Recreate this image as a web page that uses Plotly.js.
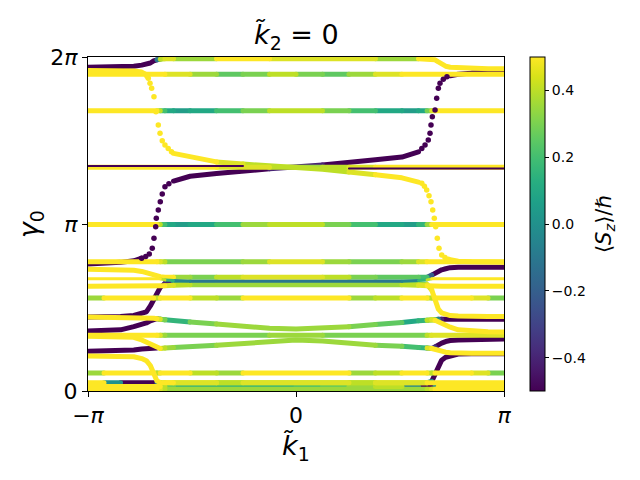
<!DOCTYPE html>
<html><head><meta charset="utf-8">
<script src="https://cdn.plot.ly/plotly-3.0.1.min.js"></script>
<style>html,body{margin:0;padding:0;background:#fff}
.scatterlayer .js-line{stroke-linejoin:round !important;stroke-linecap:round !important}</style>
</head><body><div id="chart" style="width:640px;height:480px"></div>
<script>
// shared k1 grid (x positions of the sampled band points)
const k1 = [-3.1416,-2.9,-2.65,-2.45,-2.33,-2.26,-2.2,-2.15,-2.1,-2.05,-1.98,-1.85,-1.6,-1.2,-0.8,-0.4,0,0.4,0.8,1.2,1.6,1.85,1.98,2.05,2.1,2.15,2.2,2.26,2.33,2.45,2.65,2.9,3.1416];

// gamma_0 values of each band on the k1 grid, and <Sz>/hbar values
const gTop = [6.09,6.09,6.10,6.11,6.13,6.15,6.17,6.21,6.23,6.24,6.25,6.25,6.25,6.25,6.25,6.25,6.25,6.25,6.25,6.25,6.25,6.25,6.25,6.25,6.23,6.19,6.15,6.11,6.09,6.08,6.07,6.06,6.06];
const sTop = [-0.5,-0.5,-0.5,-0.5,-0.5,-0.5,-0.5,-0.5,-0.5,0.3,0.45,0.45,0.2,0.45,0.5,0.45,0.45,0.45,0.45,0.45,0.2,0.45,0.5,0.5,0.5,0.5,0.5,0.5,0.5,0.5,0.5,0.5,0.5];

const gB = [5.96,5.96,5.96,5.96,5.96,5.96,5.96,5.96,5.96,5.96,5.96,5.96,5.96,5.96,5.96,5.96,5.96,5.96,5.96,5.96,5.96,5.96,5.96,5.96,5.96,5.96,5.96,5.96,5.96,5.96,5.96,5.96,5.96];
const sB = [0.5,0.5,0.5,0.5,0.5,0.5,0.5,0.5,0.5,0.5,0.45,0.45,0.4,0.3,0.2,0.35,0.4,0.2,0.25,0.4,0.5,0.5,0.5,0.5,0.5,0.5,0.5,0.5,0.5,0.5,0.5,0.5,0.5];

const gC = [5.27,5.27,5.27,5.27,5.27,5.27,5.27,5.27,5.27,5.27,5.27,5.27,5.27,5.27,5.27,5.27,5.27,5.27,5.27,5.27,5.27,5.27,5.27,5.27,5.27,5.27,5.27,5.27,5.27,5.27,5.27,5.27,5.27];
const sC = [0.5,0.5,0.5,0.5,0.5,0.5,0.5,0.5,0.5,0.3,0.1,0.05,0.05,0.1,0.25,0.35,0.4,0.35,0.3,0.1,0.05,0.05,0.15,0.4,0.5,0.5,0.5,0.5,0.5,0.5,0.5,0.5,0.5];

const gD = [4.21,4.21,4.21,4.21,4.21,4.21,4.21,4.21,4.21,4.21,4.21,4.21,4.21,4.21,4.21,4.21,4.21,4.21,4.21,4.21,4.21,4.21,4.21,4.21,4.21,4.21,4.21,4.21,4.21,4.21,4.21,4.21,4.21];
const sD = [0.5,0.5,0.5,0.5,0.5,0.5,0.5,0.5,0.5,0.5,0.5,0.5,0.5,0.45,0.45,0.4,0.35,0.35,0.4,0.45,0.5,0.5,0.5,0.5,0.5,0.5,0.5,0.5,0.5,0.5,0.5,0.5,0.5];
const gD2 = [4.235,4.235,4.235,4.235,4.235,4.235,4.235,4.235,4.235,4.235,4.235,4.235,4.235,4.235,4.235,null,null,null,4.185,4.185,4.185,4.185,4.185,4.185,4.185,4.185,4.185,4.185,4.185,4.185,4.185,4.185,4.185];
const sD2 = [-0.5,-0.5,-0.5,-0.5,-0.5,-0.5,-0.5,-0.5,-0.5,-0.5,-0.5,-0.5,-0.5,-0.5,-0.5,-0.5,-0.5,-0.5,-0.5,-0.5,-0.5,-0.5,-0.5,-0.5,-0.5,-0.5,-0.5,-0.5,-0.5,-0.5,-0.5,-0.5,-0.5];

const gE = [3.13,3.13,3.13,3.13,3.13,3.13,3.13,3.13,3.13,3.13,3.13,3.13,3.13,3.13,3.13,3.13,3.13,3.13,3.13,3.13,3.13,3.13,3.13,3.13,3.13,3.13,3.13,3.13,3.13,3.13,3.13,3.13,3.13];
const sE = [0.5,0.5,0.5,0.5,0.5,0.5,0.5,0.5,0.5,0.3,0.1,0.05,0.05,0.1,0.3,0.4,0.4,0.35,0.25,0.1,0.05,0.05,0.2,0.45,0.5,0.5,0.5,0.5,0.5,0.5,0.5,0.5,0.5];

// gentle parts of the two main spectral-flow bands
const gYF = [6.03,6.03,6.03,6.02,6.0,5.95,null,null,null,null,null,4.47,4.40,4.31,4.27,4.24,4.21,4.17,4.12,4.07,4.01,3.93,null,null,null,null,null,null,2.47,2.44,2.43,2.42,2.42];
const sYF = [0.5,0.5,0.5,0.5,0.5,0.5,0.5,0.5,0.5,0.5,0.5,0.5,0.5,0.45,0.4,0.4,0.35,0.4,0.4,0.45,0.5,0.5,0.5,0.5,0.5,0.5,0.5,0.5,0.5,0.5,0.5,0.5,0.5];
const gPF = [2.39,2.40,2.42,2.45,2.50,null,null,null,null,null,null,3.95,4.04,4.09,4.14,4.18,4.21,4.25,4.29,4.35,4.40,4.50,null,null,null,null,null,null,5.93,5.96,5.98,5.99,6.0];
const sPF = [-0.5,-0.5,-0.5,-0.5,-0.5,-0.5,-0.5,-0.5,-0.5,-0.5,-0.5,-0.5,-0.5,-0.5,-0.5,-0.5,-0.3,-0.5,-0.5,-0.5,-0.5,-0.5,-0.5,-0.5,-0.5,-0.5,-0.5,-0.5,-0.5,-0.5,-0.5,-0.5,-0.5];

// steep (dotted) parts of the spectral flow
const flowYx = [-2.25,-2.231,-2.205,-2.18,-2.145,-2.115,-2.08,-2.054,-2.02,-1.979,-1.93,-1.88,1.90,1.94,1.974,2.009,2.039,2.065,2.089,2.11,2.134,2.16,2.201,2.25,2.30];
const flowYg = [5.92,5.882,5.788,5.694,5.536,5.254,5.004,4.848,4.708,4.628,4.56,4.50,3.907,3.85,3.781,3.674,3.561,3.405,3.249,3.091,2.872,2.684,2.558,2.51,2.477];
const flowPx = [-1.92,-1.979,-2.02,-2.05,-2.08,-2.11,-2.119,-2.145,-2.171,-2.216,-2.27,-2.331,1.90,1.949,1.998,2.024,2.039,2.059,2.10,2.125,2.15,2.175,2.225,2.28];
const flowPg = [3.90,3.843,3.706,3.561,3.405,3.249,3.091,2.872,2.684,2.577,2.53,2.496,4.56,4.628,4.722,4.848,5.004,5.16,5.286,5.506,5.694,5.788,5.863,5.91];

// lower bands
const gF = [2.43,2.43,2.43,2.43,2.43,2.43,2.43,2.43,2.43,2.43,2.43,2.43,2.43,2.43,2.43,2.43,2.43,2.43,2.43,2.43,2.43,2.43,2.43,2.43,2.43,2.43,2.43,2.43,2.43,2.43,2.43,2.43,2.43];
const sF = [0.5,0.5,0.5,0.5,0.5,0.5,0.5,0.5,0.5,0.4,0.35,0.3,0.3,0.25,0.3,0.4,0.45,0.4,0.3,0.25,0.3,0.4,0.45,0.5,0.5,0.5,0.5,0.5,0.5,0.5,0.5,0.5,0.5];

const gG = [2.29,2.29,2.28,2.27,2.25,2.22,2.20,2.17,2.155,2.15,2.14,2.14,2.14,2.14,2.14,2.14,2.14,2.14,2.14,2.14,2.14,2.14,2.14,2.18,2.22,2.25,2.28,2.30,2.32,2.33,2.33,2.33,2.33];
const sG = [0.5,0.5,0.5,0.5,0.5,0.5,0.5,0.5,0.5,0.5,0.5,0.45,0.2,0.35,0.4,0.45,0.45,0.4,0.35,0.3,0.15,0.3,0.1,-0.5,-0.5,-0.5,-0.5,-0.5,-0.5,-0.5,-0.5,-0.5,-0.5];

const gG2 = [2.11,2.11,2.11,2.11,2.11,2.11,2.11,2.11,2.11,2.11,2.09,2.08,2.065,2.065,2.065,2.065,2.065,2.065,2.065,2.065,2.065,2.08,2.09,2.11,2.11,2.11,2.11,2.11,2.11,2.11,2.11,2.11,2.11];
const sG2 = [0.5,0.5,0.5,0.5,0.5,0.5,0.5,0.5,0.5,0.5,0.3,0.0,-0.1,-0.1,-0.1,-0.1,-0.1,-0.1,-0.1,-0.1,-0.1,0.0,0.3,0.5,0.5,0.5,0.5,0.5,0.5,0.5,0.5,0.5,0.5];

const gG3 = [1.97,1.97,1.97,1.97,1.97,1.97,1.97,1.97,1.97,1.97,1.98,1.99,2.0,2.0,2.0,2.0,2.0,2.0,2.0,2.0,2.0,1.99,1.98,1.97,1.97,1.97,1.97,1.97,1.97,1.97,1.97,1.97,1.97];
const sG3 = [0.5,0.5,0.5,0.5,0.5,0.5,0.5,0.5,0.5,0.5,0.45,0.4,0.35,0.35,0.35,0.35,0.35,0.35,0.35,0.35,0.35,0.4,0.45,0.5,0.5,0.5,0.5,0.5,0.5,0.5,0.5,0.5,0.5];

const gH = [1.39,1.39,1.40,1.42,1.45,1.49,1.60,1.73,1.86,1.95,2.02,2.03,2.03,2.02,2.02,2.01,2.01,2.01,2.02,2.02,2.02,2.02,2.0,1.90,1.71,1.54,1.47,1.44,1.42,1.41,1.40,1.40,1.40];
const sH = [-0.5,-0.5,-0.5,-0.5,-0.5,-0.5,-0.5,-0.5,-0.5,-0.5,-0.5,-0.3,0.3,0.35,0.35,0.35,0.35,0.35,0.35,0.35,0.3,0.25,0.4,0.5,0.5,0.5,0.5,0.5,0.5,0.5,0.5,0.5,0.5];

const gI = [1.75,1.75,1.75,1.75,1.75,1.75,1.75,1.75,1.75,1.75,1.75,1.75,1.75,1.75,1.75,1.75,1.75,1.75,1.75,1.75,1.75,1.75,1.75,1.75,1.75,1.75,1.75,1.75,1.75,1.75,1.75,1.75,1.75];
const sI = [0.2,0.5,0.5,0.5,0.5,0.5,0.5,0.5,0.25,0.45,0.5,0.5,0.5,0.25,0.45,0.5,0.5,0.5,0.45,0.25,0.5,0.5,0.5,0.25,0.45,0.5,0.5,0.5,0.5,0.5,0.5,0.4,0.2];

const gJ = [1.39,1.39,1.39,1.39,1.39,1.38,1.37,1.37,1.36,1.35,1.34,1.33,1.30,1.26,1.21,1.18,1.165,1.18,1.21,1.25,1.29,1.32,1.33,1.34,1.34,1.35,1.35,1.35,1.35,1.35,1.35,1.35,1.35];
const sJ = [0.5,0.5,0.5,0.5,0.5,0.5,0.5,0.5,0.5,0.4,0.2,0.05,0.2,0.35,0.35,0.35,0.35,0.35,0.35,0.3,0.15,0.05,0.2,0.4,0.2,-0.3,-0.5,-0.5,-0.5,-0.5,-0.5,-0.5,-0.5];

const gK = [1.13,1.14,1.15,1.21,1.25,1.28,1.32,1.35,1.36,1.35,1.34,null,null,null,null,null,null,null,null,null,null,null,1.33,1.34,1.33,1.30,1.27,1.24,1.20,1.15,1.125,1.115,1.11];
const sK = [-0.5,-0.5,-0.5,-0.5,-0.5,-0.5,-0.5,-0.5,-0.5,0.2,0.35,0.5,0.5,0.5,0.5,0.5,0.5,0.5,0.5,0.5,0.5,0.5,0.35,0.4,0.5,0.5,0.5,0.5,0.5,0.5,0.5,0.5,0.5];

const gL = [1.05,1.05,1.05,1.05,1.05,1.05,1.05,1.05,1.05,1.05,1.05,1.05,1.05,1.05,1.05,1.05,1.05,1.05,1.05,1.05,1.05,1.05,1.05,1.05,1.05,1.05,1.05,1.05,1.05,1.05,1.05,1.05,1.05];
const sL = [0.5,0.5,0.5,0.5,0.5,0.5,0.5,0.5,0.5,0.4,0.3,0.3,0.25,0.3,0.3,0.35,0.35,0.35,0.3,0.3,0.25,0.3,0.35,0.4,0.45,0.45,0.45,0.45,0.45,0.45,0.45,0.45,0.45];

const gM = [1.03,1.03,1.02,1.01,0.96,0.92,0.87,0.84,0.81,0.80,0.81,0.82,0.84,0.86,0.90,0.94,0.96,0.94,0.90,0.86,0.84,0.82,0.81,0.80,0.83,0.87,0.90,0.93,0.95,0.96,0.97,0.98,0.98];
const sM = [0.5,0.5,0.5,0.5,0.5,0.5,0.5,0.5,0.5,0.45,0.35,0.35,0.3,0.35,0.35,0.35,0.35,0.35,0.35,0.35,0.25,0.1,0.2,-0.2,-0.5,-0.5,-0.5,-0.5,-0.5,-0.5,-0.5,-0.5,-0.5];

const gN = [0.75,0.75,0.76,0.77,0.79,0.80,0.81,0.82,0.81,null,null,null,null,null,null,null,null,null,null,null,null,null,0.81,0.80,0.78,0.76,0.74,0.73,0.72,0.71,0.71,0.71,0.71];
const sN = [-0.5,-0.5,-0.5,-0.5,-0.5,-0.5,-0.5,-0.5,-0.5,0.5,0.5,0.5,0.5,0.5,0.5,0.5,0.5,0.5,0.5,0.5,0.5,0.5,0.4,0.5,0.5,0.5,0.5,0.5,0.5,0.5,0.5,0.5,0.5];

const gO = [0.66,0.66,0.655,0.645,0.61,0.57,0.48,0.31,0.19,0.16,0.155,0.155,0.155,0.155,0.155,0.155,0.155,0.155,0.155,0.155,0.155,0.155,0.155,0.18,0.30,0.46,0.58,0.635,0.665,0.695,0.70,0.70,0.70];
const sO = [0.5,0.5,0.5,0.5,0.5,0.5,0.5,0.5,0.5,0.5,0.5,0.45,0.45,0.4,0.4,0.4,0.4,0.4,0.4,0.4,0.45,0.45,0.45,-0.5,-0.5,-0.5,-0.5,-0.5,-0.5,-0.5,-0.5,-0.5,-0.5];

const gP = [0.34,0.34,0.34,0.34,0.34,0.34,0.34,0.34,0.34,0.34,0.34,0.34,0.34,0.34,0.34,0.34,0.34,0.34,0.34,0.34,0.34,0.34,0.34,0.34,0.34,0.34,0.34,0.34,0.34,0.34,0.34,0.34,0.34];
const sP = [0.2,0.5,0.5,0.5,0.5,0.5,0.5,0.5,0.25,0.45,0.5,0.5,0.5,0.25,0.45,0.5,0.5,0.5,0.45,0.25,0.5,0.5,0.5,0.25,0.45,0.5,0.5,0.5,0.5,0.5,0.5,0.4,0.2];

const gQ = [0.155,0.155,0.155,0.155,0.155,0.155,0.155,0.155,0.155,0.155,0.155,0.155,0.155,0.155,0.155,0.155,0.155,0.155,0.155,0.155,0.155,0.155,0.155,0.155,0.155,0.155,0.155,0.155,0.155,0.155,0.155,0.155,0.155];
const sQ = [0.5,0.5,-0.5,-0.5,-0.5,-0.5,-0.5,-0.5,-0.5,0.3,0.45,0.45,0.45,0.4,0.4,0.45,0.45,0.45,0.4,0.4,0.45,0.45,0.45,0.5,0.5,0.5,0.5,0.5,0.5,0.5,0.5,0.5,0.5];

const gR = [0.085,0.085,0.085,0.085,0.085,0.085,0.085,0.085,0.085,0.085,0.085,0.085,0.085,0.085,0.085,0.085,0.085,0.085,0.085,0.085,0.085,0.085,0.085,0.085,0.085,0.085,0.085,0.085,0.085,0.085,0.085,0.085,0.085];
const sR = [0.5,0.5,0.5,0.5,0.5,0.5,0.5,0.5,0.5,0.5,0.3,0.15,0.15,0.15,0.15,0.15,0.15,0.25,0.25,0.4,0.4,-0.5,-0.5,-0.5,-0.5,0.5,0.5,0.5,0.5,0.5,0.5,0.5,0.5];

const gS = [0.035,0.035,0.035,0.035,0.035,0.035,0.035,0.035,0.035,0.035,0.035,0.035,0.035,0.035,0.035,0.035,0.035,0.035,0.035,0.035,0.035,0.035,0.035,0.035,0.035,0.035,0.035,0.035,0.035,0.035,0.035,0.035,0.035];
const sS = [0.5,0.5,0.5,0.5,0.5,0.5,0.5,0.5,0.5,0.4,0.35,0.35,0.35,0.35,0.35,0.35,0.35,0.35,0.35,0.35,0.35,0.35,0.35,0.4,0.5,0.5,0.5,0.5,0.5,0.5,0.5,0.5,0.5];

const yTickVals = [0, Math.PI, 2*Math.PI];
const yTickText = ['0', '<i>π</i>', '2<i>π</i>'];
const xTickVals = [-Math.PI, 0, Math.PI];
const xTickText = ['−<i>π</i>', '0', '<i>π</i>'];
const cbTickVals = [-0.4, -0.2, 0, 0.2, 0.4];
const cbTickText = ['−0.4', '−0.2', '0.0', '0.2', '0.4'];

// ---------- drawing ----------
const VIR = ['#440154','#482475','#414487','#355f8d','#2a788e','#21918c','#22a884','#44bf70','#7ad151','#bddf26','#fde725'];
function hex2rgb(h){return [parseInt(h.slice(1,3),16),parseInt(h.slice(3,5),16),parseInt(h.slice(5,7),16)];}
function viridis(c){
  let t = Math.min(1, Math.max(0, c + 0.5)) * 10;
  const i = Math.min(9, Math.floor(t)), f = t - i;
  const a = hex2rgb(VIR[i]), b = hex2rgb(VIR[i+1]);
  return 'rgb(' + a.map((v,j)=>Math.round(v + (b[j]-v)*f)).join(',') + ')';
}

const bands = [
  {g:gTop,s:sTop,w:5,layer:0},{g:gB,s:sB,w:5,layer:0},{g:gC,s:sC,w:5,layer:0},
  {g:gD,s:sD,w:5,layer:0},{g:gE,s:sE,w:5,layer:0},
  {g:gYF,s:sYF,w:5,layer:0},{g:gPF,s:sPF,w:5,layer:0},
  {g:gF,s:sF,w:5,layer:0},{g:gG,s:sG,w:5,layer:0},{g:gG3,s:sG3,w:5,layer:0},
  {g:gH,s:sH,w:5,layer:0},{g:gI,s:sI,w:5,layer:0},{g:gJ,s:sJ,w:5,layer:0},
  {g:gK,s:sK,w:5,layer:0},{g:gL,s:sL,w:5,layer:0},{g:gM,s:sM,w:5,layer:0},
  {g:gN,s:sN,w:5,layer:0},{g:gO,s:sO,w:5,layer:0},{g:gP,s:sP,w:5,layer:0},
  {g:gQ,s:sQ,w:5,layer:0},{g:gR,s:sR,w:5,layer:0},{g:gS,s:sS,w:5,layer:0},
  {g:gD2,s:sD2,w:2,layer:1},{g:gG2,s:sG2,w:3,layer:1}
];

const groups = {};
bands.forEach(b => {
  let runKey = null;
  for (let i = 0; i < k1.length - 1; i++) {
    const y0 = b.g[i], y1 = b.g[i+1];
    if (y0 == null || y1 == null) { runKey = null; continue; }
    const bin = Math.round(((b.s[i] + b.s[i+1]) / 2) * 20) / 20;
    const key = b.layer + '|' + b.w + '|' + bin;
    if (key !== runKey) {
      if (!groups[key]) groups[key] = {x:[], y:[], layer:b.layer, w:b.w, bin:bin};
      const gr = groups[key];
      if (gr.x.length) { gr.x.push(null); gr.y.push(null); }
      gr.x.push(k1[i]); gr.y.push(y0);
      runKey = key;
    }
    groups[key].x.push(k1[i+1]); groups[key].y.push(y1);
  }
});

const groupList = Object.values(groups).sort((a,b) => (a.layer - b.layer) || (a.bin - b.bin));
const traces = groupList.map(gr => ({
  type:'scatter', mode:'lines', x:gr.x, y:gr.y, connectgaps:false,
  line:{color:viridis(gr.bin), width:gr.w}, hoverinfo:'skip', showlegend:false
}));

const dotX = flowYx.concat(flowPx);
const dotY = flowYg.concat(flowPg);
const dotC = flowYx.map(()=>0.5).concat(flowPx.map(()=>-0.5));
traces.push({
  type:'scatter', mode:'markers', x:dotX, y:dotY, hoverinfo:'skip', showlegend:false,
  marker:{size:5.5, color:dotC, colorscale:'Viridis', cmin:-0.5, cmax:0.5, showscale:true,
    line:{width:0},
    colorbar:{x:1.0625, xanchor:'left', y:0.5, yanchor:'middle', len:1, lenmode:'fraction',
      thickness:15, thicknessmode:'pixels', xpad:0, ypad:0, outlinewidth:1, outlinecolor:'#000',
      tickmode:'array', tickvals:cbTickVals, ticktext:cbTickText, ticks:'outside', ticklen:4,
      tickwidth:1, tickcolor:'#000', tickfont:{family:'DejaVu Sans', size:14, color:'#000'}}
  }
});

const F = 'DejaVu Sans';
const layout = {
  width:640, height:480, paper_bgcolor:'#fff', plot_bgcolor:'#fff',
  margin:{l:88, r:136, t:57, b:89},
  showlegend:false,
  xaxis:{range:[-Math.PI, Math.PI], tickmode:'array', tickvals:xTickVals, ticktext:xTickText,
    showgrid:false, zeroline:false, showline:true, linecolor:'#000', linewidth:1, mirror:true,
    ticks:'outside', ticklen:5, tickwidth:1, tickcolor:'#000',
    tickfont:{family:F, size:22, color:'#000'}},
  yaxis:{range:[0, 2*Math.PI], tickmode:'array', tickvals:yTickVals, ticktext:yTickText,
    showgrid:false, zeroline:false, showline:true, linecolor:'#000', linewidth:1, mirror:true,
    ticks:'outside', ticklen:5, tickwidth:1, tickcolor:'#000',
    tickfont:{family:F, size:22, color:'#000'}},
  annotations:[
    {text:'<i>k\u0303</i><sub>2</sub> = 0', xref:'paper', yref:'paper', x:0.5, y:1.06,
     xanchor:'center', yanchor:'middle', showarrow:false, font:{family:F, size:27, color:'#000'}},
    {text:'<i>k\u0303</i><sub>1</sub>', xref:'paper', yref:'paper', x:0.5, y:-0.168,
     xanchor:'center', yanchor:'middle', showarrow:false, font:{family:F, size:27, color:'#000'}},
    {text:'<i>γ</i><sub>0</sub>', xref:'paper', yref:'paper', x:-0.139, y:0.5, textangle:-90,
     xanchor:'center', yanchor:'middle', showarrow:false, font:{family:F, size:27, color:'#000'}},
    {text:'⟨<i>S</i><sub><i>z</i></sub>⟩/<i>ℏ</i>', xref:'paper', yref:'paper', x:1.243, y:0.5, textangle:-90,
     xanchor:'center', yanchor:'middle', showarrow:false, font:{family:F, size:21, color:'#000'}}
  ]
};

Plotly.newPlot('chart', traces, layout, {displayModeBar:false, staticPlot:true});
</script>
</body></html>
